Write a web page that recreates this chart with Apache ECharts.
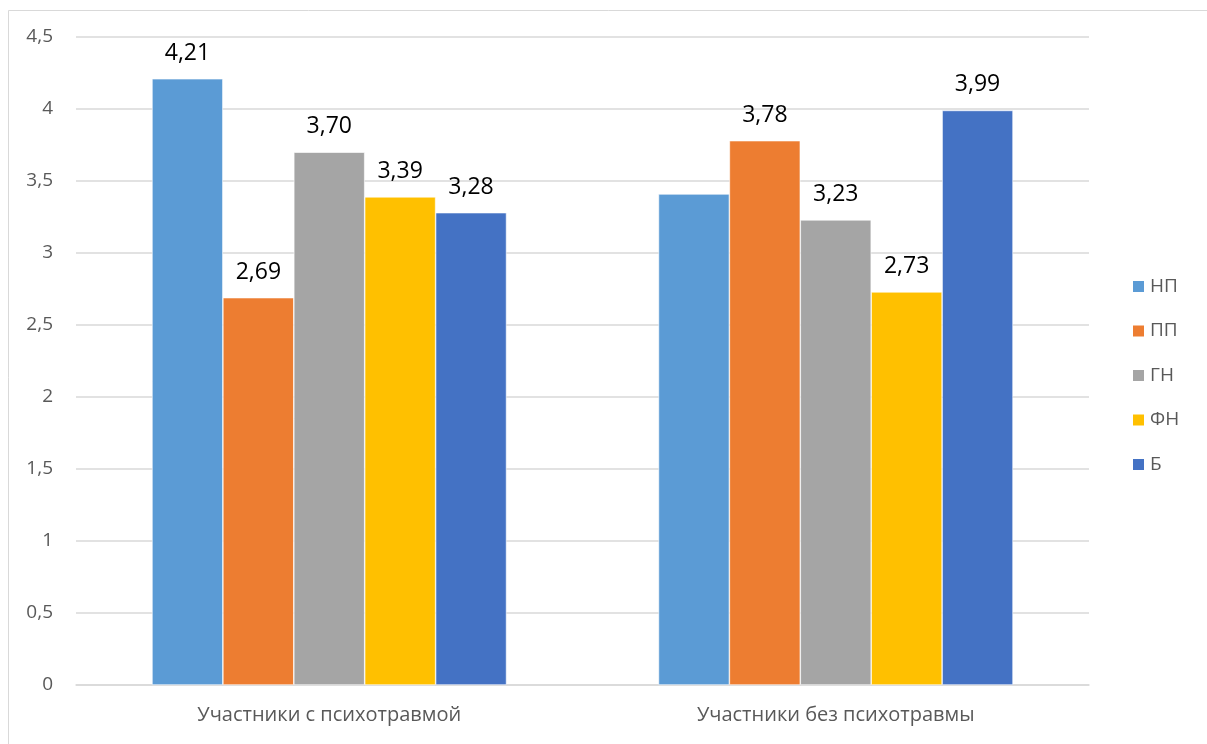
<!DOCTYPE html>
<html>
<head>
<meta charset="utf-8">
<script src="https://cdn.jsdelivr.net/npm/echarts@6/dist/echarts.min.js"></script>
<style>html,body{margin:0;padding:0;background:#fff;}#c{width:1207px;height:744px;}</style>
</head>
<body>
<div id="c"></div>
<script>
const categories = ['Участники с психотравмой', 'Участники без психотравмы'];
const seriesNames = ['НП', 'ПП', 'ГН', 'ФН', 'Б'];
const valuesNP = [4.21, 3.41];
const valuesPP = [2.69, 3.78];
const valuesGN = [3.70, 3.23];
const valuesFN = [3.39, 2.73];
const valuesB = [3.28, 3.99];
const showLabel = [[true, false], [true, true], [true, true], [true, true], [true, true]];
const colors = ['#5B9BD5', '#ED7D31', '#A5A5A5', '#FFC000', '#4472C4'];
const allValues = [valuesNP, valuesPP, valuesGN, valuesFN, valuesB];

const font = 'Open Sans, Noto Sans, DejaVu Sans, sans-serif';
const chart = echarts.init(document.getElementById('c'));
chart.setOption({
  animation: false,
  backgroundColor: '#fff',
  graphic: [{
    type: 'rect', left: 6, top: 8,
    shape: { width: 1220, height: 760 },
    style: { fill: 'none', stroke: '#d9d9d9', lineWidth: 1 }
  }],
  grid: { left: 76, right: 118, top: 37, bottom: 59 },
  legend: {
    orient: 'vertical', left: 1131, top: 277, padding: 0,
    itemWidth: 13, itemHeight: 13, itemGap: 25.5,
    icon: 'rect',
    textStyle: { color: '#595959', fontSize: 19, fontFamily: font },
    data: seriesNames
  },
  xAxis: {
    type: 'category', data: categories,
    axisLine: { lineStyle: { color: '#d9d9d9', width: 1.5 } },
    axisTick: { show: false },
    axisLabel: { color: '#595959', fontSize: 20, fontFamily: font, margin: 20 }
  },
  yAxis: {
    type: 'value', min: 0, max: 4.5, interval: 0.5,
    axisLine: { show: false }, axisTick: { show: false },
    splitLine: { lineStyle: { color: '#d9d9d9', width: 1.5 } },
    axisLabel: {
      color: '#595959', fontSize: 19, fontFamily: font, margin: 23,
      formatter: v => String(v).replace('.', ',')
    }
  },
  series: seriesNames.map((n, i) => ({
    name: n, type: 'bar',
    barGap: '0%', barCategoryGap: '30%',
    itemStyle: { color: colors[i], borderColor: '#ffffff', borderWidth: 0.6 },
    data: allValues[i].map((v, j) => ({
      value: v,
      label: {
        show: showLabel[i][j], position: 'top', distance: 14,
        color: '#000', fontSize: 23, fontFamily: font,
        formatter: p => p.value.toFixed(2).replace('.', ',')
      }
    }))
  }))
});
</script>
</body>
</html>
